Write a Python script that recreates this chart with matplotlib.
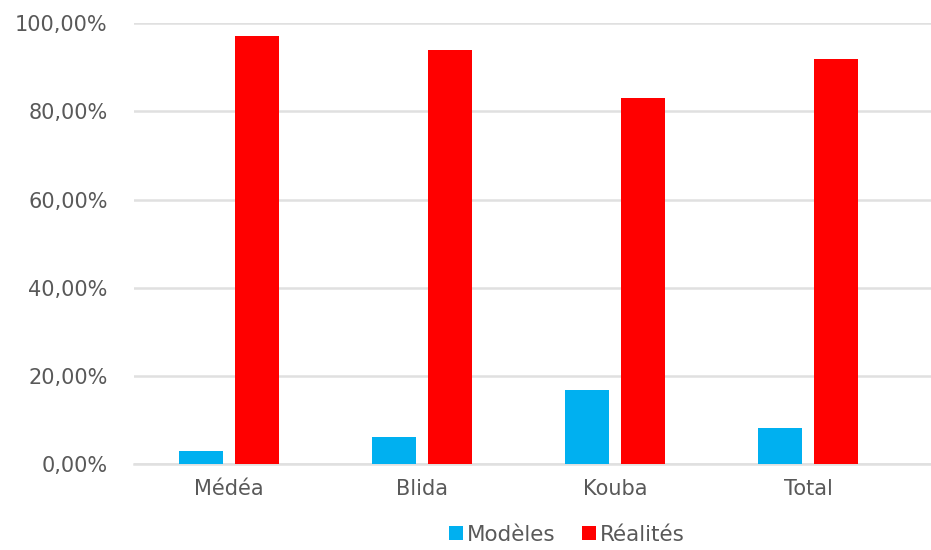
import matplotlib.pyplot as plt
import numpy as np
from matplotlib.ticker import FuncFormatter

categories = ["Médéa", "Blida", "Kouba", "Total"]
modeles = [2.9, 6.2, 16.9, 8.2]
realites = [97.1, 93.8, 83.1, 91.8]
yticks = [0, 20, 40, 60, 80, 100]

plt.rcParams['font.family'] = ['DejaVu Sans']

fig = plt.figure(figsize=(9.31, 5.5), dpi=100)
ax = fig.add_axes([0.144, 0.156, 0.856, 0.802])

x = np.arange(len(categories))
w = 0.228
off = 0.145
ax.bar(x - off, modeles, w, color='#00B0F0', label='Modèles', zorder=3)
ax.bar(x + off, realites, w, color='#FF0000', label='Réalités', zorder=3)

ax.set_xlim(-0.49, 3.637)
ax.set_ylim(0, 100)
ax.set_yticks(yticks)
ax.yaxis.set_major_formatter(FuncFormatter(lambda v, p: f"{v:.2f}%".replace('.', ',')))
ax.set_xticks(x)
ax.set_xticklabels(categories)
ax.grid(axis='y', color='#E0E0E0', linewidth=1.8, zorder=0)
for s in ['top', 'right', 'left']:
    ax.spines[s].set_visible(False)
ax.spines['bottom'].set_color('#E0E0E0')
ax.spines['bottom'].set_linewidth(1.8)
ax.tick_params(axis='both', length=0, colors='#595959', labelsize=15)
ax.tick_params(axis='x', pad=11)
ax.tick_params(axis='y', pad=19)

leg = fig.legend(loc='center', bbox_to_anchor=(0.609, 0.028), ncol=2, frameon=False,
                 fontsize=15.5, handlelength=0.65, handleheight=0.65, handletextpad=0.2,
                 columnspacing=1.2, borderpad=0.1)
for t in leg.get_texts():
    t.set_color('#595959')

fig.savefig('out.png', dpi=100, facecolor='white')
